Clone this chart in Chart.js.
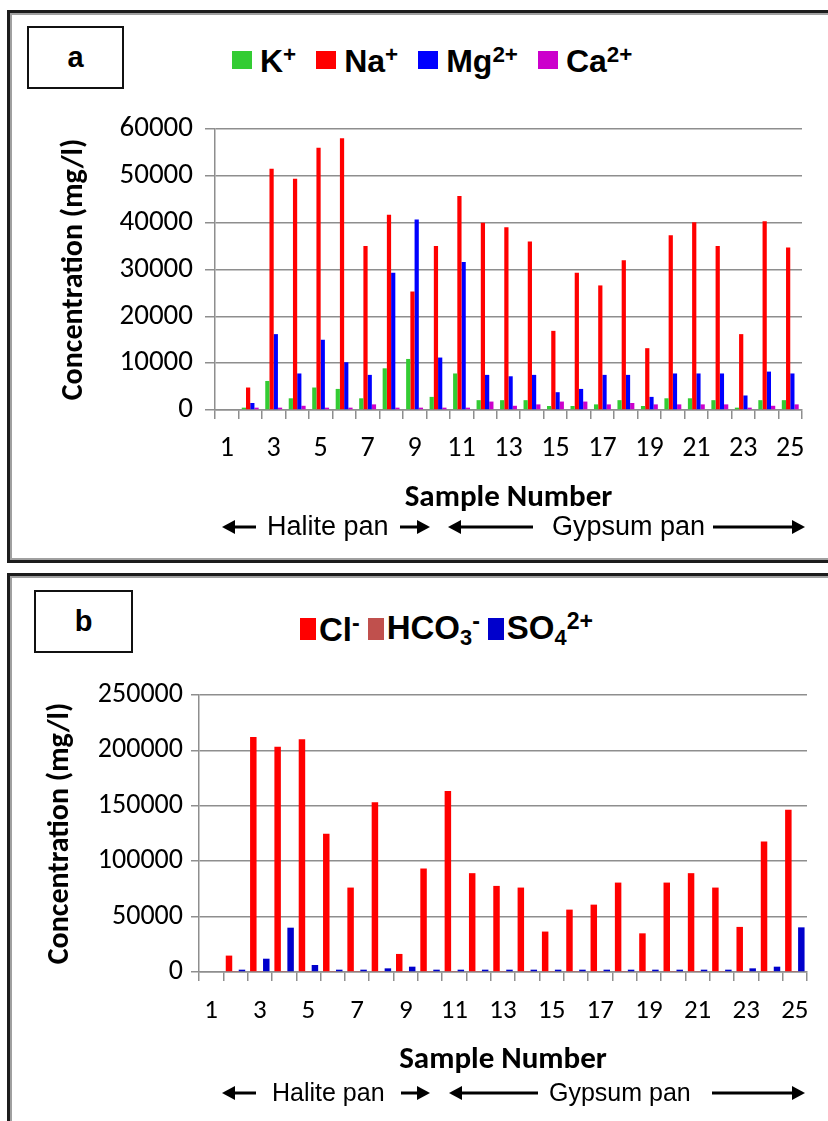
<!DOCTYPE html>
<html>
<head>
<meta charset="utf-8">
<script src="https://cdn.jsdelivr.net/npm/chart.js@4.4.1/dist/chart.umd.min.js"></script>
<style>
  body { margin: 0; width: 828px; height: 1121px; overflow: hidden; background: #fff; position: relative;
         font-family: "Liberation Sans", Arial, sans-serif; }
  .panel { position: absolute; left: 7px; width: 840px; box-sizing: border-box;
           border: 3px solid #1c1c1c; box-shadow: inset 0 0 0 2px #a0a0a0; }
  .tag { position: absolute; box-sizing: border-box; border: 2px solid #111; background: #fff;
         display: flex; align-items: center; justify-content: center; font-weight: bold; font-size: 29px; }
  .legend { position: absolute; display: flex; align-items: center; height: 40px;
            font-weight: bold; line-height: 1; color: #000; }
  .legend .item { display: flex; align-items: center; }
  .legend sup { font-size: 0.7em; vertical-align: 10px; }
  .legend sub { font-size: 0.66em; vertical-align: -6px; }
  .wrap { position: absolute; }
</style>
</head>
<body>
<div class="panel" style="top:10px;height:553px;"></div>
<div class="panel" style="top:573px;height:600px;"></div>
<div class="tag" style="left:27px;top:26px;width:97px;height:63px;">a</div>
<div class="tag" style="left:34px;top:590px;width:99px;height:63px;">b</div>
<div id="legendA" class="legend" style="left:232px;top:40px;font-size:32px;"></div>
<div id="legendB" class="legend" style="left:300px;top:609px;font-size:33px;"></div>
<div class="wrap" style="left:10px;top:95px;width:818px;height:455px;"><canvas id="chartA"></canvas></div>
<div class="wrap" style="left:10px;top:665px;width:818px;height:456px;"><canvas id="chartB"></canvas></div>

<script>
// sample numbers 1..25
const samples = ['1','2','3','4','5','6','7','8','9','10','11','12','13','14','15','16','17','18','19','20','21','22','23','24','25'];

// panel a: cations (mg/l)
const kVals  = [0, 500, 6200, 2500, 4800, 4500, 2500, 8900, 10900, 2800, 7800, 2100, 2100, 2100, 850, 850, 1200, 2100, 850, 2500, 2500, 2100, 500, 2100, 2100];
const naVals = [0, 4800, 51500, 49400, 56000, 58000, 35000, 41700, 25300, 35000, 45700, 40000, 39000, 36000, 16900, 29300, 26600, 32000, 13200, 37300, 40100, 35000, 16200, 40300, 34700];
const mgVals = [0, 1500, 16200, 7800, 15000, 10200, 7500, 29300, 40700, 11200, 31600, 7500, 7200, 7500, 3800, 4500, 7500, 7500, 2800, 7800, 7800, 7800, 3100, 8200, 7800];
const caVals = [0, 500, 500, 900, 500, 500, 1200, 500, 500, 500, 500, 1800, 900, 1200, 1800, 1800, 1200, 1500, 1200, 1200, 1200, 1200, 500, 900, 1200];

// panel b: anions (mg/l)
const clVals   = [0, 14800, 212000, 203300, 210000, 124700, 76200, 153300, 16300, 93400, 163300, 89200, 77700, 76200, 36500, 56300, 60800, 80700, 34900, 80700, 89200, 76200, 40700, 117800, 146400];
const hco3Vals = [0, 300, 300, 300, 300, 300, 300, 300, 300, 300, 300, 300, 300, 300, 300, 300, 300, 300, 300, 300, 300, 300, 300, 300, 300];
const so4Vals  = [0, 2100, 12000, 40000, 6300, 2100, 2100, 3300, 4800, 2100, 2100, 2100, 2100, 2100, 2100, 2100, 2100, 2100, 2100, 2100, 2100, 2100, 3300, 4800, 40300];

const ticksA = [0, 10000, 20000, 30000, 40000, 50000, 60000];
const ticksB = [0, 50000, 100000, 150000, 200000, 250000];

const panNames = ['Halite pan', 'Gypsum pan'];

const tickFont = 'Carlito, Lato, sans-serif';
const gridGrey = '#8e8e8e';

// superscript / subscript chars -> html for the legend
function richLabel(s) {
    const sup = {'⁺': '+', '⁻': '-', '²': '2'};
    const sub = {'₃': '3', '₄': '4'};
    let html = '';
    for (const ch of s) {
        if (sup[ch]) html += '<sup>' + sup[ch] + '</sup>';
        else if (sub[ch]) html += '<sub>' + sub[ch] + '</sub>';
        else html += ch;
    }
    return html.replace(/<\/sup><sup>/g, '').replace(/<\/sub><sub>/g, '');
}

function buildLegend(chart, elId, box, gapText, gapItem) {
    const el = document.getElementById(elId);
    el.innerHTML = '';
    chart.data.datasets.forEach(function (ds, i) {
        const item = document.createElement('div');
        item.className = 'item';
        item.style.marginRight = (i < chart.data.datasets.length - 1 ? gapItem : 0) + 'px';
        const sw = document.createElement('span');
        sw.style.cssText = 'display:inline-block;width:' + box[0] + 'px;height:' + box[1] + 'px;background:' + ds.backgroundColor + ';margin-right:' + gapText + 'px;';
        const txt = document.createElement('span');
        txt.innerHTML = richLabel(ds.label);
        item.appendChild(sw);
        item.appendChild(txt);
        el.appendChild(item);
    });
}

// arrows and pan names under the x axis
const panArrows = {
    id: 'panArrows',
    afterDraw(chart, args, opts) {
        const ctx = chart.ctx;
        const y = opts.y;
        ctx.save();
        ctx.fillStyle = '#000';
        ctx.strokeStyle = '#000';
        ctx.lineWidth = 3;
        opts.arrows.forEach(function (a) {
            const tail = a[0], tip = a[1];
            const d = tip > tail ? 1 : -1;
            ctx.beginPath();
            ctx.moveTo(tail, y);
            ctx.lineTo(tip - d * 10, y);
            ctx.stroke();
            ctx.beginPath();
            ctx.moveTo(tip, y);
            ctx.lineTo(tip - d * 13, y - 7);
            ctx.lineTo(tip - d * 13, y + 7);
            ctx.closePath();
            ctx.fill();
        });
        ctx.font = opts.size + 'px "Liberation Sans", Arial, sans-serif';
        ctx.textBaseline = 'middle';
        opts.texts.forEach(function (t) {
            ctx.fillText(t[1], t[0], y + 1);
        });
        ctx.restore();
    }
};

function makeOptions(cfg) {
    return {
        responsive: true,
        maintainAspectRatio: false,
        animation: false,
        layout: { padding: cfg.padding },
        plugins: {
            legend: { display: false },
            tooltip: { enabled: true },
            panArrows: cfg.pans
        },
        scales: {
            x: {
                grid: { drawOnChartArea: false, drawTicks: true, tickLength: 9, color: gridGrey, lineWidth: 1.5, offset: true },
                border: { color: gridGrey, width: 1.5 },
                ticks: {
                    autoSkip: false, maxRotation: 0, padding: cfg.xPad, color: '#000',
                    font: { family: tickFont, size: cfg.xFont },
                    callback: function (val, i) { return i % 2 === 0 ? this.getLabelForValue(val) : ''; }
                },
                title: {
                    display: true, text: 'Sample Number', color: '#000',
                    font: { family: tickFont, size: 31, weight: 'bold' },
                    padding: { top: 0, bottom: cfg.xTitlePad }
                },
                afterFit: function (scale) { scale.height = cfg.xHeight; }
            },
            y: {
                min: cfg.ticks[0],
                max: cfg.ticks[cfg.ticks.length - 1],
                afterBuildTicks: function (scale) { scale.ticks = cfg.ticks.map(function (v) { return { value: v }; }); },
                grid: { color: gridGrey, lineWidth: 1.5, tickLength: cfg.yTick },
                border: { color: gridGrey, width: 1.5 },
                ticks: {
                    padding: cfg.yPad, color: '#000',
                    font: { family: tickFont, size: cfg.yFont },
                    callback: function (v) { return String(v); }
                },
                title: {
                    display: true, text: 'Concentration (mg/l)', color: '#000',
                    font: { family: tickFont, size: cfg.yTitleFont, weight: 'bold' },
                    padding: { top: cfg.yTitlePad, bottom: 0 }
                },
                afterFit: function (scale) { scale.width = cfg.yWidth; }
            }
        }
    };
}

// canvas a sits at page (10, 95); canvas b at page (10, 665)
const chartA = new Chart(document.getElementById('chartA'), {
    type: 'bar',
    data: {
        labels: samples,
        datasets: [
            { label: 'K⁺',   data: kVals,  backgroundColor: '#33cc33' },
            { label: 'Na⁺',  data: naVals, backgroundColor: '#ff0000' },
            { label: 'Mg²⁺', data: mgVals, backgroundColor: '#0000ff' },
            { label: 'Ca²⁺', data: caVals, backgroundColor: '#cc00cc' }
        ].map(function (d) { return Object.assign(d, { barPercentage: 1, categoryPercentage: 0.72, borderWidth: 0 }); })
    },
    options: makeOptions({
        padding: { top: 34, right: 26, bottom: 30, left: 0 },
        ticks: ticksA,
        xHeight: 110, xPad: 13, xFont: 28, xTitlePad: 3,
        yWidth: 205, yTick: 10, yPad: 12, yFont: 29, yTitleFont: 30, yTitlePad: 46,
        pans: {
            y: 432, size: 27,
            arrows: [[246, 212], [390, 420], [523, 438], [703, 795]],
            texts: [[257, panNames[0]], [542, panNames[1]]]
        }
    }),
    plugins: [panArrows]
});

const chartB = new Chart(document.getElementById('chartB'), {
    type: 'bar',
    data: {
        labels: samples,
        datasets: [
            { label: 'Cl⁻',   data: clVals,   backgroundColor: '#ff0000' },
            { label: 'HCO₃⁻', data: hco3Vals, backgroundColor: '#c0504d' },
            { label: 'SO₄²⁺', data: so4Vals,  backgroundColor: '#0000cc' }
        ].map(function (d) { return Object.assign(d, { barPercentage: 1, categoryPercentage: 0.8, borderWidth: 0 }); })
    },
    options: makeOptions({
        padding: { top: 30, right: 21, bottom: 39, left: 0 },
        ticks: ticksB,
        xHeight: 110, xPad: 14, xFont: 27, xTitlePad: 3,
        yWidth: 189, yTick: 8, yPad: 8, yFont: 28, yTitleFont: 30, yTitlePad: 32,
        pans: {
            y: 428, size: 25,
            arrows: [[246, 212], [391, 420], [528, 439], [702, 795]],
            texts: [[262, panNames[0]], [539, panNames[1]]]
        }
    }),
    plugins: [panArrows]
});

buildLegend(chartA, 'legendA', [20, 18], 8, 20);
buildLegend(chartB, 'legendB', [16, 22], 3, 8);
</script>
</body>
</html>
